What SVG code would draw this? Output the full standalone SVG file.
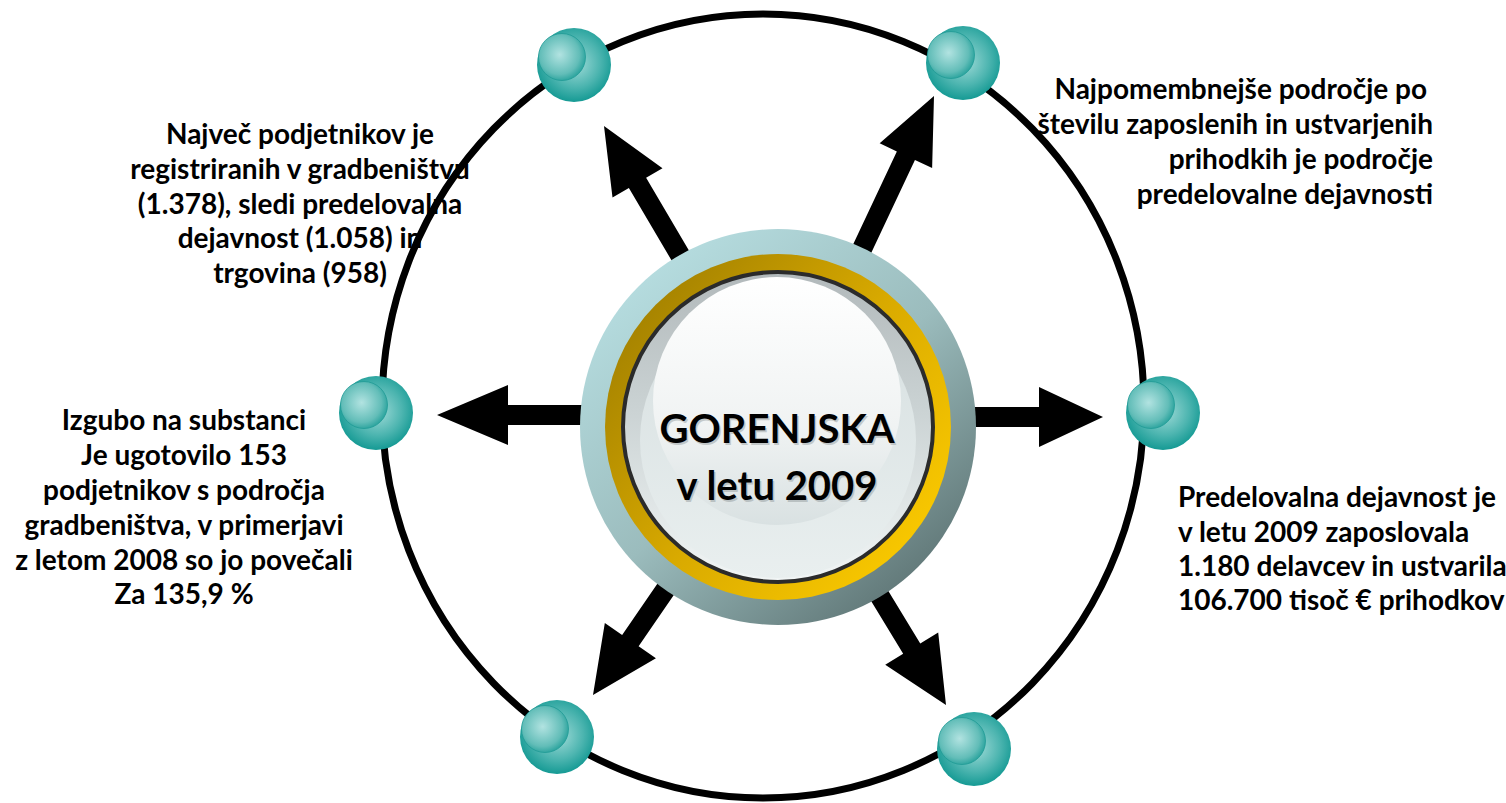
<svg xmlns="http://www.w3.org/2000/svg" width="1506" height="803" viewBox="0 0 1506 803">
<defs>
<style>
.lbl{font-family:Lato,"Liberation Sans",sans-serif;font-weight:700;font-size:28px;fill:#000}
.c{text-anchor:middle}
.e{text-anchor:end}
.big{font-family:Lato,"Liberation Sans",sans-serif;font-weight:700;font-size:40px;text-anchor:middle}
.arrow{fill:#000}
</style>
<radialGradient id="ballG" cx="0.5" cy="0.45" r="0.55" fx="0.55" fy="0.5">
<stop offset="0" stop-color="#9ad8d5"/>
<stop offset="0.6" stop-color="#4db5b0"/>
<stop offset="1" stop-color="#159a94"/>
</radialGradient>
<radialGradient id="hiG" cx="0.45" cy="0.45" r="0.6">
<stop offset="0" stop-color="#b2e3e1"/>
<stop offset="0.7" stop-color="#62bdb8"/>
<stop offset="1" stop-color="#1f9e98"/>
</radialGradient>
<linearGradient id="outerG" x1="0.15" y1="0.1" x2="0.85" y2="0.95">
<stop offset="0" stop-color="#b6dde0"/>
<stop offset="0.5" stop-color="#9bbcbd"/>
<stop offset="1" stop-color="#5c7272"/>
</linearGradient>
<linearGradient id="goldG" x1="0.1" y1="0.2" x2="0.9" y2="0.85">
<stop offset="0" stop-color="#a88500"/>
<stop offset="0.5" stop-color="#d9aa00"/>
<stop offset="1" stop-color="#f9c800"/>
</linearGradient>
<linearGradient id="faceG" x1="0" y1="0" x2="0" y2="1">
<stop offset="0" stop-color="#b2b9bb"/>
<stop offset="0.45" stop-color="#cbd3d4"/>
<stop offset="1" stop-color="#f1f5f5"/>
</linearGradient>
<linearGradient id="lowG" x1="0" y1="0" x2="0" y2="1">
<stop offset="0" stop-color="#d6dfe0"/>
<stop offset="1" stop-color="#e9efef"/>
</linearGradient>
<linearGradient id="hlG" x1="0" y1="0" x2="0" y2="1">
<stop offset="0" stop-color="#ffffff"/>
<stop offset="0.6" stop-color="#f0f3f3"/>
<stop offset="1" stop-color="#d9e1e2"/>
</linearGradient>
<g id="ball">
<circle r="37" fill="url(#ballG)"/>
<circle cx="-12" cy="-8" r="23.5" fill="url(#hiG)" stroke="#1f9b95" stroke-width="0.8"/>
</g>
</defs>
<rect width="1506" height="803" fill="#fff"/>

<g id="text-topleft">
<text x="300" y="144" class="lbl c">Največ podjetnikov je</text>
<text x="300" y="179" class="lbl c">registriranih v gradbeništvu</text>
<text x="300" y="214" class="lbl c">(1.378), sledi predelovalna</text>
<text x="300" y="248" class="lbl c">dejavnost (1.058) in</text>
<text x="300" y="283" class="lbl c">trgovina (958)</text>
</g>
<g id="text-topright">
<text x="1427" y="99" class="lbl e">Najpomembnejše področje po</text>
<text x="1433" y="134" class="lbl e">številu zaposlenih in ustvarjenih</text>
<text x="1433" y="169" class="lbl e">prihodkih je področje</text>
<text x="1433" y="204" class="lbl e">predelovalne dejavnosti</text>
</g>
<g id="text-left">
<text x="184" y="430" class="lbl c">Izgubo na substanci</text>
<text x="184" y="465" class="lbl c">Je ugotovilo 153</text>
<text x="184" y="500" class="lbl c">podjetnikov s področja</text>
<text x="184" y="535" class="lbl c">gradbeništva, v primerjavi</text>
<text x="184" y="570" class="lbl c">z letom 2008 so jo povečali</text>
<text x="184" y="604" class="lbl c">Za 135,9 %</text>
</g>
<g id="text-right">
<text x="1178" y="507" class="lbl">Predelovalna dejavnost je</text>
<text x="1178" y="542" class="lbl">v letu 2009 zaposlovala</text>
<text x="1178" y="576" class="lbl">1.180 delavcev in ustvarila</text>
<text x="1178" y="610" class="lbl">106.700 tisoč € prihodkov</text>
</g>

<g id="ring">
<ellipse cx="763" cy="406" rx="381" ry="392" fill="none" stroke="#000" stroke-width="7"/>
</g>

<g id="connectors">
<polygon class="arrow" transform="translate(437,415) rotate(180)" points="0,0 -71,-30 -71,-10 -220,-10 -220,10 -71,10 -71,30"/>
<polygon class="arrow" transform="translate(1103,417)" points="0,0 -64,-30 -64,-10 -220,-10 -220,10 -64,10 -64,30"/>
<polygon class="arrow" transform="translate(604,126) rotate(-120.5)" points="0,0 -66,-29 -66,-10 -220,-10 -220,10 -66,10 -66,29"/>
<polygon class="arrow" transform="translate(934,96) rotate(-64.8)" points="0,0 -66,-29 -66,-10 -220,-10 -220,10 -66,10 -66,29"/>
<polygon class="arrow" transform="translate(593,695) rotate(124.5)" points="0,0 -66,-31 -66,-10 -200,-10 -200,10 -66,10 -66,31"/>
<polygon class="arrow" transform="translate(946,705) rotate(58.7)" points="0,0 -66,-31 -66,-10 -200,-10 -200,10 -66,10 -66,31"/>
</g>

<g id="center">
<circle cx="778" cy="427" r="198" fill="url(#outerG)"/>
<circle cx="778" cy="427" r="173" fill="url(#goldG)"/>
<circle cx="778" cy="427" r="155" fill="url(#faceG)" stroke="#2b2b2b" stroke-width="4"/>
<circle cx="778" cy="440" r="138" fill="url(#lowG)"/>
<circle cx="777" cy="401" r="124" fill="url(#hlG)"/>
<text x="778.5" y="444.5" class="big" fill="#8e9698" opacity="0.45">GORENJSKA</text>
<text x="777" y="443" class="big" fill="#000">GORENJSKA</text>
<text x="778.5" y="501.5" class="big" fill="#8e9698" opacity="0.45">v letu 2009</text>
<text x="777" y="500" class="big" fill="#000">v letu 2009</text>
</g>

<g id="node-tl"><use href="#ball" x="574" y="65"/></g>
<g id="node-tr"><use href="#ball" x="963" y="63"/></g>
<g id="node-l"><use href="#ball" x="376" y="413"/></g>
<g id="node-r"><use href="#ball" x="1163" y="413"/></g>
<g id="node-bl"><use href="#ball" x="557" y="737"/></g>
<g id="node-br"><use href="#ball" x="974" y="749"/></g>
</svg>
